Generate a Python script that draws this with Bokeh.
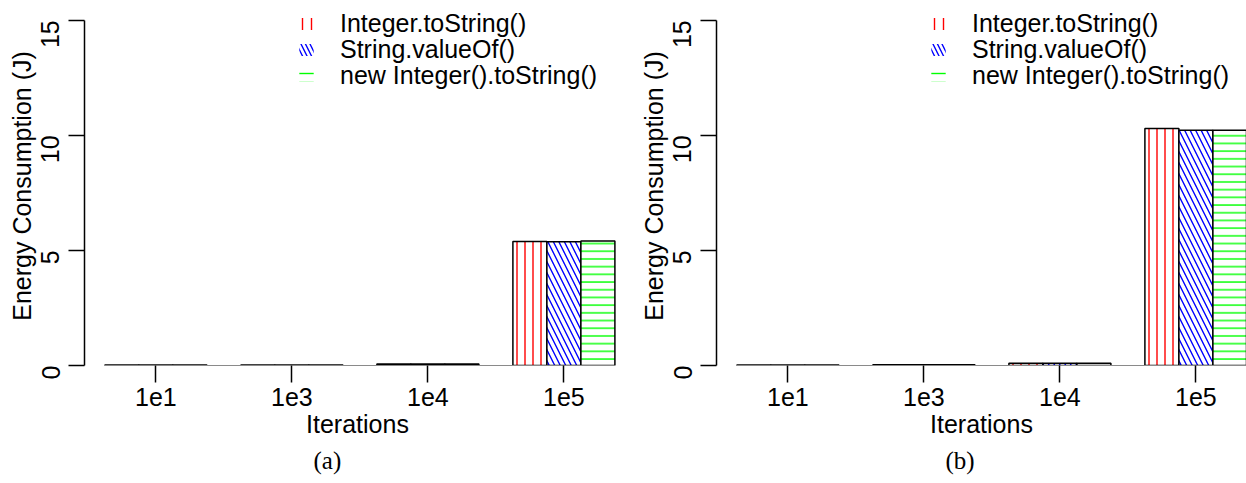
import math
from bokeh.plotting import figure
from bokeh.models import (FixedTicker, Legend, LegendItem, Title, Range1d,
                          ColumnDataSource)
from bokeh.layouts import row
from bokeh.embed import file_html
from bokeh.resources import INLINE

# ---------------- data ----------------
iterations = ["1e1", "1e3", "1e4", "1e5"]
series_names = ["Integer.toString()", "String.valueOf()", "new Integer().toString()"]

a_integer_tostring = [0.02, 0.02, 0.06, 5.39]
a_string_valueof = [0.02, 0.02, 0.06, 5.38]
a_new_integer_tostring = [0.02, 0.02, 0.07, 5.41]

b_integer_tostring = [0.02, 0.03, 0.10, 10.30]
b_string_valueof = [0.02, 0.03, 0.10, 10.22]
b_new_integer_tostring = [0.02, 0.03, 0.10, 10.22]

y_ticks = [0, 5, 10, 15]
captions = ["(a)", "(b)"]

# ---------------- style ----------------
colors = ["#FF0000", "#0000FF", "#00FF00"]
patterns = ["|", "\\", "-"]
hatch_scales = [8, 11, 7.7]
legend_y = [327, 301, 275]
FONT = "Liberation Sans"
FS = "25px"


def make_panel(series, caption, width, x_end, min_right):
    p = figure(width=width, height=483,
               x_range=Range1d(0.4, x_end), y_range=Range1d(0, 15.6),
               output_backend="svg", toolbar_location=None,
               min_border_left=84, min_border_right=min_right,
               min_border_top=6, min_border_bottom=118)
    p.outline_line_color = None
    p.xgrid.visible = False
    p.ygrid.visible = False
    p.background_fill_color = "white"
    p.border_fill_color = "white"

    n = len(iterations)
    for j, vals in enumerate(series):
        xs = [1.5 + 4 * i + j for i in range(n)]
        src = ColumnDataSource(dict(x=xs, top=vals))
        p.vbar(x="x", top="top", bottom=0, width=1, source=src,
               fill_color="white", line_color="black", line_width=1.5,
               hatch_pattern=patterns[j], hatch_color=colors[j],
               hatch_scale=hatch_scales[j], hatch_weight=1.4)
        dummy = p.vbar(x="x", top="top", bottom=0, width=1, source=src,
                       fill_color="white", line_alpha=0,
                       hatch_pattern=patterns[j], hatch_color=colors[j],
                       hatch_scale=9, hatch_weight=1.4, visible=False)
        legend = Legend(items=[LegendItem(label=series_names[j], renderers=[dummy])],
                        location=(213, legend_y[j]),
                        glyph_width=18, glyph_height=15, label_standoff=25,
                        spacing=0, padding=0, margin=0,
                        label_text_font=FONT, label_text_font_size=FS,
                        label_text_color="black",
                        border_line_alpha=0, background_fill_alpha=0,
                        inactive_fill_alpha=0)
        p.add_layout(legend)

    centers = [2.5 + 4 * i for i in range(n)]
    xa = p.xaxis[0]
    xa.ticker = FixedTicker(ticks=centers)
    xa.major_label_overrides = {c: lab for c, lab in zip(centers, iterations)}
    xa.bounds = (1, 4 * n)
    xa.axis_line_color = "#8a8a8a"
    xa.axis_line_width = 1
    xa.major_tick_out = 17
    xa.major_tick_in = 0
    xa.major_tick_line_width = 1.5
    xa.major_tick_line_color = "black"
    xa.minor_tick_line_color = None
    xa.major_label_standoff = 5
    xa.major_label_text_font = FONT
    xa.major_label_text_font_size = FS
    xa.major_label_text_color = "black"
    xa.axis_label = "Iterations"
    xa.axis_label_standoff = 1
    xa.axis_label_text_font = FONT
    xa.axis_label_text_font_size = FS
    xa.axis_label_text_font_style = "normal"
    xa.axis_label_text_color = "black"

    ya = p.yaxis[0]
    ya.ticker = FixedTicker(ticks=y_ticks)
    ya.bounds = (0, 15)
    ya.major_label_orientation = math.pi / 2
    ya.axis_line_color = "black"
    ya.axis_line_width = 1.5
    ya.major_tick_out = 16
    ya.major_tick_in = 0
    ya.major_tick_line_width = 1.5
    ya.minor_tick_line_color = None
    ya.major_label_standoff = 18
    ya.major_label_text_font = FONT
    ya.major_label_text_font_size = FS
    ya.major_label_text_color = "black"
    ya.axis_label = "Energy Consumption (J)"
    ya.axis_label_standoff = -6
    ya.axis_label_text_font = FONT
    ya.axis_label_text_font_size = FS
    ya.axis_label_text_font_style = "normal"
    ya.axis_label_text_color = "black"

    cap = Title(text=caption, align="left", offset=229,
                text_font="Liberation Serif", text_font_size="25px",
                text_font_style="normal", text_color="black", standoff=8)
    p.add_layout(cap, "below")
    return p


pa = make_panel([a_integer_tostring, a_string_valueof, a_new_integer_tostring],
                captions[0], 632, 0.4 + 546 / 34.0, 2)
pb = make_panel([b_integer_tostring, b_string_valueof, b_new_integer_tostring],
                captions[1], 614, 0.4 + 530 / 34.0, 0)

layout = row(pa, pb)
open("out.html", "w").write(file_html(layout, INLINE))
